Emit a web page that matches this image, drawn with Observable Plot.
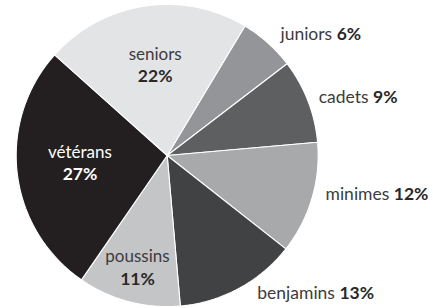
<!DOCTYPE html>
<html>
<head>
<meta charset="utf-8">
<script src="https://cdn.jsdelivr.net/npm/d3@7"></script>
<script src="https://cdn.jsdelivr.net/npm/@observablehq/plot@0.6"></script>
<style>
  html, body { margin: 0; padding: 0; background: #fff; }
  svg { display: block; }
</style>
</head>
<body>
<div id="chart"></div>
<script>
// ---- data ----
const categories = ["juniors", "cadets", "minimes", "benjamins", "poussins", "vétérans", "seniors"];
const shares = [6, 9, 12, 13, 11, 27, 22];
const percentLabels = ["6%", "9%", "12%", "13%", "11%", "27%", "22%"];
const sliceColors = ["#939598", "#5e5f61", "#a8a9ab", "#414244", "#c4c5c7", "#231f20", "#e3e4e5"];

// ---- layout (not data) ----
const startAngle = 31; // degrees clockwise from 12 o'clock
const outside = new Set(["juniors", "cadets", "minimes", "benjamins"]);
// [radius factor, angle nudge in degrees] for label anchors
const labelLayout = {
  "juniors": [1.10, 1.2],
  "cadets": [1.075, 0.2],
  "minimes": [1.08, -2.8],
  "benjamins": [1.09, -4.8],
  "poussins": [0.77, 0.0],
  "vétérans": [0.58, 1.5],
  "seniors": [0.60, 1.0]
};

const total = d3.sum(shares);
const rad = (deg) => deg * Math.PI / 180;
let acc = startAngle;
const slices = categories.map((name, i) => {
  const a0 = acc;
  const a1 = acc + shares[i] / total * 360;
  acc = a1;
  return { name, share: shares[i], pct: percentLabels[i], a0, a1, mid: (a0 + a1) / 2 };
});

// polygon outline of each slice (centre + arc samples), in unit-radius coordinates
const slicePoints = slices.flatMap((s) => {
  const pts = [{ name: s.name, x: 0, y: 0 }];
  const n = Math.max(2, Math.ceil((s.a1 - s.a0) / 0.5));
  for (let k = 0; k <= n; k++) {
    const a = rad(s.a0 + (s.a1 - s.a0) * k / n);
    pts.push({ name: s.name, x: Math.sin(a), y: Math.cos(a) });
  }
  pts.push({ name: s.name, x: 0, y: 0 });
  return pts;
});

const labels = slices.map((s) => {
  const [r, nudge] = labelLayout[s.name];
  const a = rad(s.mid + nudge);
  return { ...s, x: r * Math.sin(a), y: r * Math.cos(a), outer: outside.has(s.name) };
});
const inner = labels.filter((d) => !d.outer);
const outer = labels.filter((d) => d.outer);

const font = "Lato, 'Open Sans', sans-serif";
const plot = Plot.plot({
  width: 433,
  height: 308,
  margin: 0,
  style: { fontFamily: font, background: "#fff", overflow: "visible" },
  x: { domain: [-1.104, 1.764], range: [0, 433], axis: null },
  y: { domain: [-1.013, 1.026], range: [308, 0], axis: null },
  color: { domain: categories, range: sliceColors },
  marks: [
    Plot.line(slicePoints, {
      x: "x", y: "y", z: "name", fill: "name",
      stroke: "#ffffff", strokeWidth: 1.1, strokeLinejoin: "miter", curve: "linear"
    }),
    Plot.text(inner, {
      x: "x", y: "y", text: "name", dy: -11, fontSize: 17,
      fill: (d) => d.name === "vétérans" ? "#ffffff" : "#3c3c3e"
    }),
    Plot.text(inner, {
      x: "x", y: "y", text: "pct", dy: 11, fontSize: 17.5, fontWeight: "bold",
      fill: (d) => d.name === "vétérans" ? "#ffffff" : "#2a2829"
    }),
    Plot.text(outer, {
      x: "x", y: "y", text: (d) => d.name + "\u00a0" + d.pct, textAnchor: "start",
      fontSize: 17.5, fill: "#3c3c3e"
    })
  ]
});

// split outer labels into normal name + bold percentage
d3.select(plot).selectAll("text").each(function () {
  const t = this.textContent;
  const i = t.indexOf("\u00a0");
  if (i < 0) return;
  const sel = d3.select(this);
  sel.text(null);
  sel.append("tspan").text(t.slice(0, i) + " ");
  sel.append("tspan").attr("font-weight", "bold").style("font-weight", "700")
    .attr("fill", "#2a2829").text(t.slice(i + 1));
});

document.getElementById("chart").appendChild(plot);
</script>
</body>
</html>
